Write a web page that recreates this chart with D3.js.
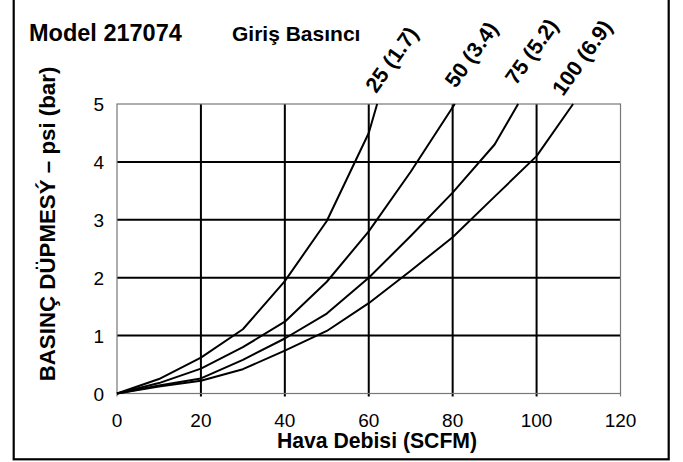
<!DOCTYPE html>
<html><head><meta charset="utf-8">
<script src="https://cdn.jsdelivr.net/npm/d3@7"></script>
<style>
html,body{margin:0;padding:0;background:#fff;}
svg{display:block;font-family:"Liberation Sans",Arial,Helvetica,sans-serif;}
</style></head>
<body>
<svg id="chart" width="683" height="462"></svg>
<script>
// ---- data ----
const title = "Model 217074";
const legendTitle = "Giriş Basıncı";
const xTitle = "Hava Debisi (SCFM)";
const yTitle = "BASINÇ DÜPMESÝ – psi (bar)";
const xTicks = [0, 20, 40, 60, 80, 100, 120];
const yTicks = [0, 1, 2, 3, 4, 5];
const seriesNames = ["25 (1.7)", "50 (3.4)", "75 (5.2)", "100 (6.9)"];
const flow25  = [0, 10, 20, 30, 40, 50, 60, 62];
const drop25  = [0, 0.25, 0.62, 1.11, 1.94, 2.98, 4.5, 5];
const flow50  = [0, 10, 20, 30, 40, 50, 60, 70, 80.5];
const drop50  = [0, 0.18, 0.43, 0.8, 1.24, 1.93, 2.8, 3.83, 5];
const flow75  = [0, 10, 20, 30, 40, 50, 60, 70, 80, 90, 95.6];
const drop75  = [0, 0.14, 0.26, 0.58, 0.95, 1.38, 2.0, 2.72, 3.47, 4.3, 5];
const flow100 = [0, 10, 20, 30, 40, 50, 60, 70, 80, 90, 100, 108.7];
const drop100 = [0, 0.12, 0.22, 0.42, 0.74, 1.08, 1.56, 2.12, 2.7, 3.4, 4.1, 5];

const series = [
  {name: seriesNames[0], x: flow25,  y: drop25},
  {name: seriesNames[1], x: flow50,  y: drop50},
  {name: seriesNames[2], x: flow75,  y: drop75},
  {name: seriesNames[3], x: flow100, y: drop100}
];

// ---- layout ----
const svg = d3.select("#chart");
const L = 117, R = 620.5, T = 104, B = 393.5;
const x = d3.scaleLinear().domain([0, 120]).range([L, R]);
const y = d3.scaleLinear().domain([0, 5]).range([B, T]);

// outer frame
svg.append("rect").attr("x", 13.7).attr("y", -5).attr("width", 655).attr("height", 464.3)
  .attr("fill", "none").attr("stroke", "#000").attr("stroke-width", 2.2);

// interior grid
const g = svg.append("g");
g.selectAll("line.h").data(yTicks.filter(v => v > 0 && v < 5)).join("line")
  .attr("x1", L).attr("x2", R).attr("y1", d => y(d)).attr("y2", d => y(d))
  .attr("stroke", "#000").attr("stroke-width", 2);
g.selectAll("line.v").data(xTicks.filter(v => v > 0 && v < 120)).join("line")
  .attr("x1", d => x(d)).attr("x2", d => x(d)).attr("y1", T).attr("y2", B + 3)
  .attr("stroke", "#000").attr("stroke-width", 2);

// plot border (thin grey)
svg.append("rect").attr("x", L).attr("y", T).attr("width", R - L).attr("height", B - T)
  .attr("fill", "none").attr("stroke", "#777").attr("stroke-width", 1.2);
svg.selectAll("line.et").data([0, 120]).join("line")
  .attr("x1", d => x(d)).attr("x2", d => x(d)).attr("y1", B).attr("y2", B + 3)
  .attr("stroke", "#777").attr("stroke-width", 1.2);

// tick labels
svg.append("g").selectAll("text").data(xTicks).join("text")
  .attr("x", d => x(d)).attr("y", 427).attr("text-anchor", "middle")
  .attr("font-size", 19).attr("fill", "#000").text(d => d);
svg.append("g").selectAll("text").data(yTicks).join("text")
  .attr("x", 104).attr("y", d => y(d) + 7).attr("text-anchor", "end")
  .attr("font-size", 19).attr("fill", "#000").text(d => d);

// curves
const line = d3.line().x(d => x(d[0])).y(d => y(d[1]));
svg.append("g").selectAll("path").data(series).join("path")
  .attr("d", s => line(s.x.map((v, i) => [v, s.y[i]])))
  .attr("fill", "none").attr("stroke", "#000").attr("stroke-width", 2)
  .attr("stroke-linejoin", "round");

// series labels (rotated)
const labOff = [[-1, 94], [1, 89], [-2, 86], [-10, 97]];
svg.append("g").selectAll("text").data(series).join("text")
  .attr("transform", (s, i) => {
    const ex = x(s.x[s.x.length - 1]) + labOff[i][0];
    return `translate(${ex},${labOff[i][1]}) rotate(-54.5)`;
  })
  .attr("font-size", 21.5).attr("font-weight", "bold").attr("fill", "#000")
  .text(s => s.name);

// titles
svg.append("text").attr("x", 29).attr("y", 41).attr("font-size", 23.5).attr("font-weight", "bold")
  .text(title);
svg.append("text").attr("x", 232).attr("y", 41).attr("font-size", 21).attr("font-weight", "bold")
  .text(legendTitle);
svg.append("text").attr("x", 377).attr("y", 448).attr("text-anchor", "middle")
  .attr("font-size", 21.2).attr("font-weight", "bold").text(xTitle);
svg.append("text").attr("transform", "translate(55,224) rotate(-90)").attr("text-anchor", "middle")
  .attr("font-size", 22.3).attr("font-weight", "bold").text(yTitle);
</script>
</body></html>
